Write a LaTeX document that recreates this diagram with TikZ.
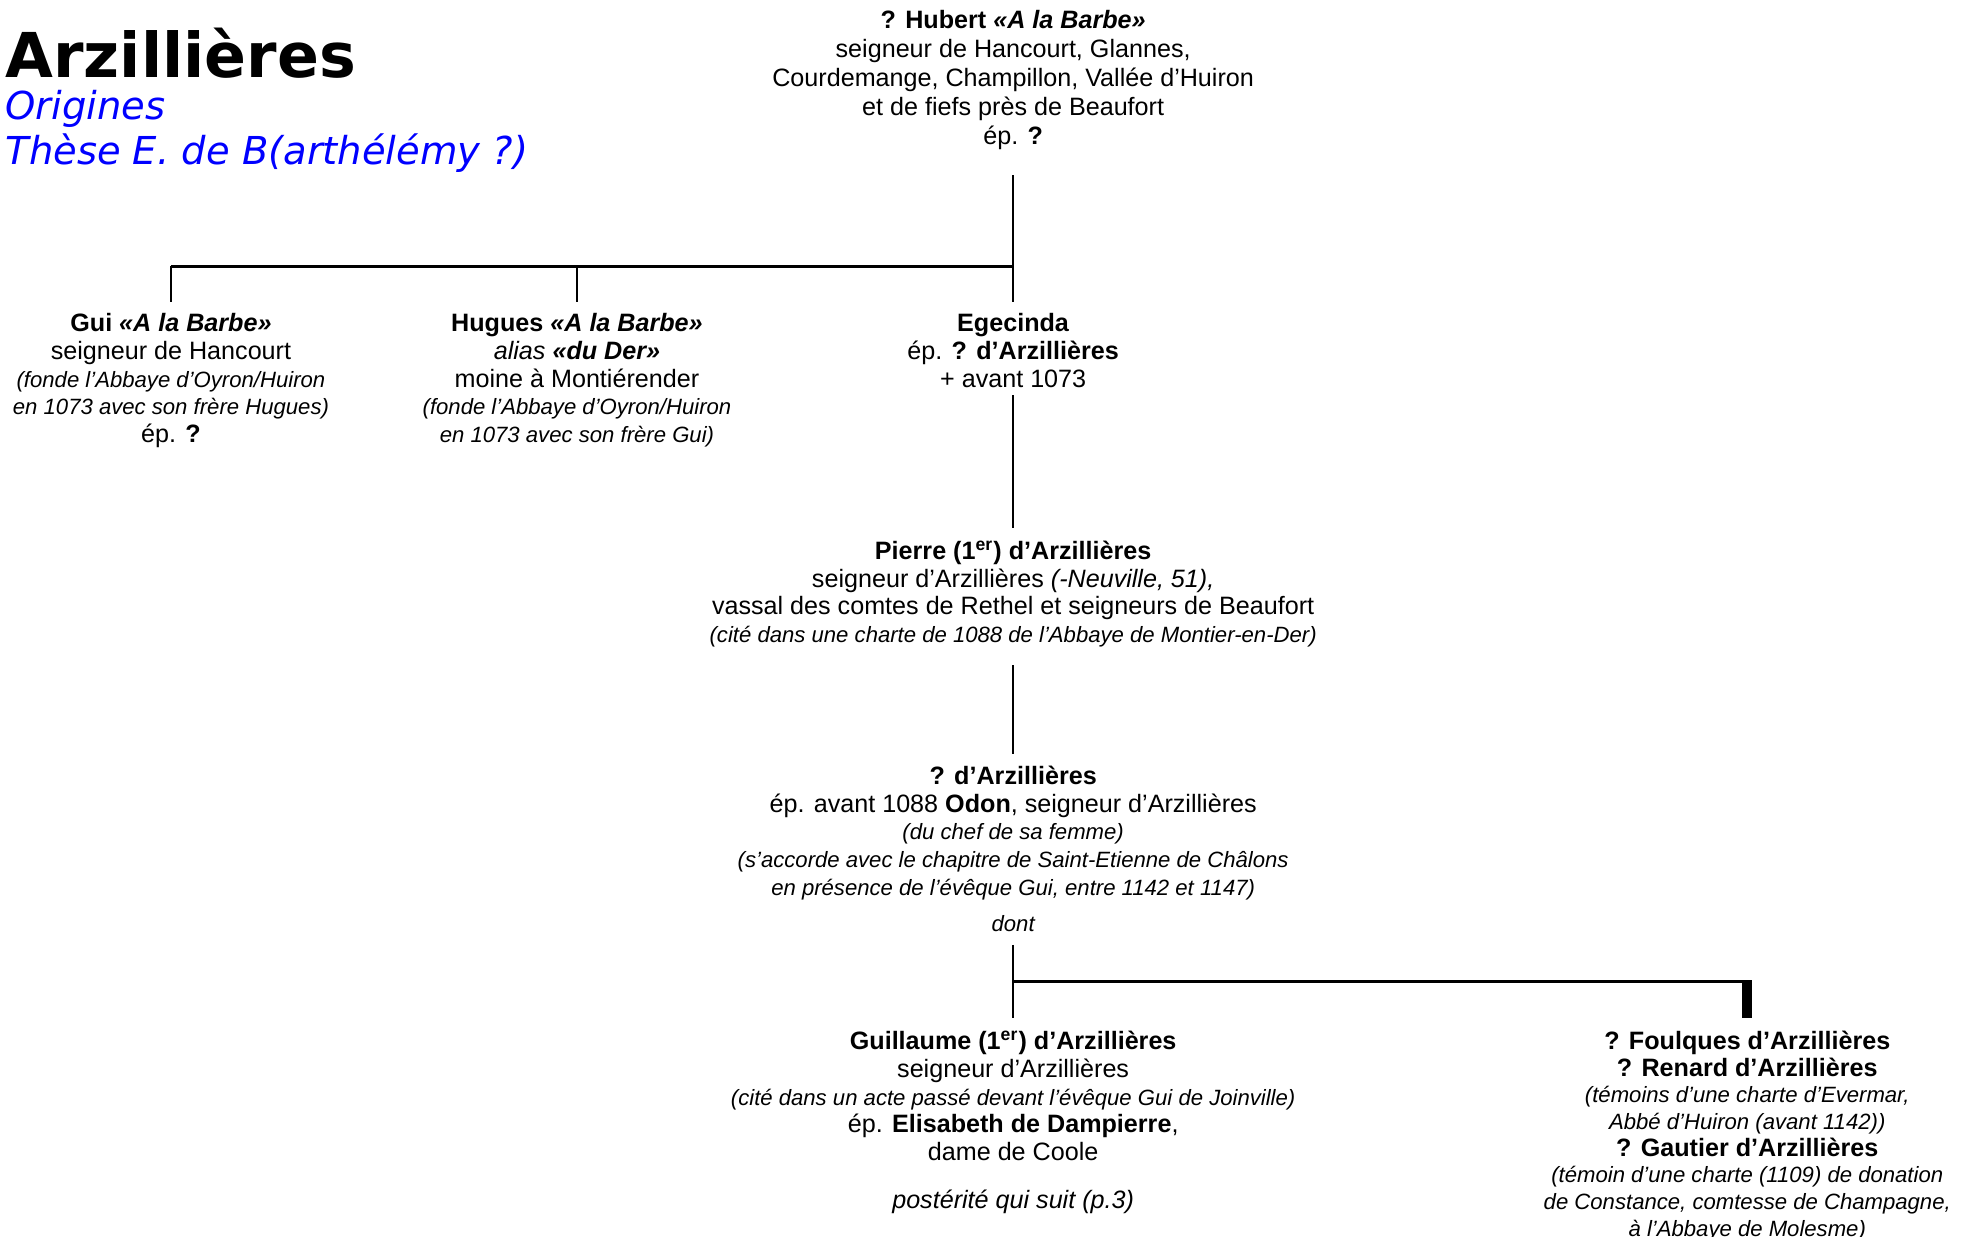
\documentclass[tikz,border=0pt]{standalone}
\usepackage{fontspec}
\setmainfont{Liberation Sans}
\newfontfamily\titlefont{DejaVu Sans}
\usepackage{tikz}
\usepackage{color}
\definecolor{titleblue}{RGB}{0,0,255}
\newcommand{\annot}[1]{{\fontsize{8.8}{10.5}\selectfont\itshape #1}}

\begin{document}
\begin{tikzpicture}[x=0.5pt, y=-0.5pt,
	person/.style={align=center, anchor=north, inner sep=0pt, font=\fontsize{10}{11}\selectfont},
	tree/.style={line width=1pt}]
	\useasboundingbox (0,0) rectangle (1568,983.3);

	% titre
	\node[anchor=base west, inner sep=0pt, font=\titlefont\bfseries\fontsize{24.6}{28}\selectfont] (title) at (4,62) {Arzillières};
	\node[anchor=base west, inner sep=0pt, text=titleblue, font=\titlefont\itshape\fontsize{15.3}{18}\selectfont] (origines) at (4,95) {Origines};
	\node[anchor=base west, inner sep=0pt, text=titleblue, font=\titlefont\itshape\fontsize{15.3}{18}\selectfont] (these) at (4,131) {Thèse E. de B(arthélémy ?)};

	% generation 1
	\node[person, font=\fontsize{10}{11.5}\selectfont] (hubert) at (806,8) {\textbf{? Hubert \textit{«A la Barbe»}}\\
		seigneur de Hancourt, Glannes,\\
		Courdemange, Champillon, Vallée d’Huiron\\
		et de fiefs près de Beaufort\\
		ép. \textbf{?}};

	% generation 2
	\node[person] (gui) at (136,249) {\textbf{Gui \textit{«A la Barbe»}}\\
		seigneur de Hancourt\\
		\annot{(fonde l’Abbaye d’Oyron/Huiron}\\
		\annot{en 1073 avec son frère Hugues)}\\
		ép. \textbf{?}};
	\node[person] (hugues) at (459,249) {\textbf{Hugues \textit{«A la Barbe»}}\\
		\textit{alias \textbf{«du Der»}}\\
		moine à Montiérender\\
		\annot{(fonde l’Abbaye d’Oyron/Huiron}\\
		\annot{en 1073 avec son frère Gui)}};
	\node[person] (egecinda) at (806,249) {\textbf{Egecinda}\\
		ép. \textbf{? d’Arzillières}\\
		+ avant 1073};

	% generation 3 et 4
	\node[person] (pierre) at (806,430) {\textbf{Pierre (1\textsuperscript{er}) d’Arzillières}\\
		seigneur d’Arzillières \textit{(-Neuville, 51),}\\
		vassal des comtes de Rethel et seigneurs de Beaufort\\
		\annot{(cité dans une charte de 1088 de l’Abbaye de Montier-en-Der)}};
	\node[person] (odon) at (806,609) {\textbf{? d’Arzillières}\\
		ép. avant 1088 \textbf{Odon}, seigneur d’Arzillières\\
		\annot{(du chef de sa femme)}\\
		\annot{(s’accorde avec le chapitre de Saint-Etienne de Châlons}\\
		\annot{en présence de l’évêque Gui, entre 1142 et 1147)}};
	\node[anchor=base, inner sep=0pt] (dont) at (806,741) {\annot{dont}};

	% generation 5
	\node[person] (guillaume) at (806,820) {\textbf{Guillaume (1\textsuperscript{er}) d’Arzillières}\\
		seigneur d’Arzillières\\
		\annot{(cité dans un acte passé devant l’évêque Gui de Joinville)}\\
		ép. \textbf{Elisabeth de Dampierre},\\
		dame de Coole\\[8pt]
		\textit{postérité qui suit (p.3)}};
	\node[person, font=\fontsize{10}{10.6}\selectfont] (foulques) at (1390,820) {\textbf{? Foulques d’Arzillières}\\
		\textbf{? Renard d’Arzillières}\\
		\annot{(témoins d’une charte d’Evermar,}\\
		\annot{Abbé d’Huiron (avant 1142))}\\
		\textbf{? Gautier d’Arzillières}\\
		\annot{(témoin d’une charte (1109) de donation}\\
		\annot{de Constance, comtesse de Champagne,}\\
		\annot{à l’Abbaye de Molesme)}};

	\coordinate (fork1) at (806,212);
	\coordinate (fork2) at (806,781);

	% traits
	\draw[tree, shorten <=10pt] (hubert) -- (fork1);
	\draw[tree] (gui |- fork1) -- (fork1);
	\draw[tree, shorten >=4.5pt] (gui |- fork1) -- (gui);
	\draw[tree, shorten >=4.5pt] (hugues |- fork1) -- (hugues);
	\draw[tree, shorten >=4.5pt] (fork1) -- (egecinda);
	\draw[tree, shorten <=3pt, shorten >=5pt] (egecinda) -- (pierre);
	\draw[tree, shorten <=7pt, shorten >=4.5pt] (pierre) -- (odon);
	\draw[tree, shorten <=5pt, shorten >=5pt] (dont) -- (guillaume);
	\draw[tree] (fork2) -- (fork2 -| foulques);
	\draw[line width=4pt, shorten >=5pt] ([yshift=0.5pt]fork2 -| foulques) -- (foulques);

\end{tikzpicture}
\end{document}
